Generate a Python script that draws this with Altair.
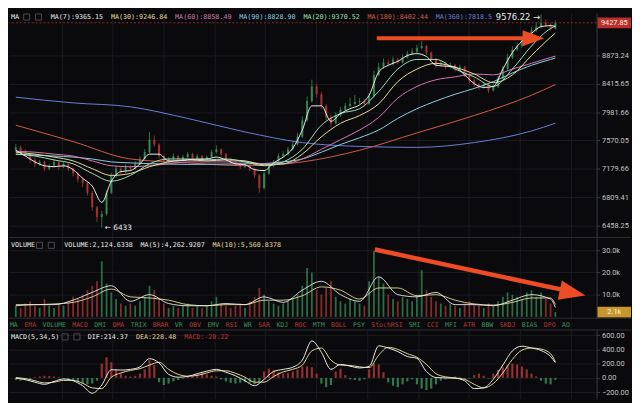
import altair as alt
import pandas as pd
import numpy as np

# ---------------- data ----------------
closes = [7474, 7420, 7380, 7301, 7248, 7274, 7183, 7222, 7274, 7209,
          7248, 7183, 7119, 7042, 6992, 6867, 6684, 6565, 6600, 6867,
          7093, 7183, 7144, 7209, 7183, 7248, 7314, 7407, 7582, 7514,
          7354, 7274, 7314, 7354, 7301, 7340, 7380, 7327, 7354, 7301,
          7340, 7407, 7447, 7380, 7314, 7274, 7248, 7209, 7222, 7183,
          7093, 6929, 7119, 7222, 7274, 7354, 7380, 7447, 7514, 7623,
          7860, 8149, 8372, 8252, 8075, 7903, 7817, 7931, 8017, 8075,
          8105, 8134, 8149, 8105, 8222, 8555, 8679, 8757, 8726, 8805,
          8757, 8837, 8901, 8933, 8997, 9029, 8917, 8805, 8710, 8742,
          8679, 8710, 8648, 8679, 8555, 8463, 8402, 8372, 8402, 8312,
          8372, 8494, 8648, 8837, 8965, 9029, 9127, 9193, 9294, 9361,
          9429, 9395, 9328, 9427.85]
highs = [7520, 7500, 7445, 7400, 7330, 7300, 7290, 7250, 7310, 7290,
         7280, 7265, 7200, 7140, 7070, 7010, 6890, 6700, 6640, 6900,
         7130, 7220, 7210, 7240, 7230, 7280, 7350, 7450, 7690, 7640,
         7530, 7370, 7340, 7390, 7370, 7370, 7410, 7400, 7380, 7370,
         7360, 7440, 7500, 7460, 7395, 7330, 7290, 7260, 7250, 7240,
         7200, 7110, 7150, 7260, 7300, 7390, 7420, 7480, 7560, 7680,
         7920, 8220, 8479, 8420, 8290, 8100, 7940, 7980, 8060, 8120,
         8200, 8240, 8190, 8170, 8270, 8620, 8750, 8820, 8800, 8850,
         8830, 8890, 8950, 8990, 9050, 9110, 9050, 8940, 8830, 8790,
         8770, 8750, 8730, 8720, 8700, 8580, 8490, 8430, 8440, 8420,
         8410, 8540, 8700, 8900, 9020, 9090, 9190, 9260, 9360, 9440,
         9576.22, 9490, 9420, 9470]
lows = [7410, 7390, 7340, 7260, 7200, 7215, 7150, 7160, 7200, 7170,
        7190, 7150, 7080, 7000, 6940, 6830, 6640, 6500, 6433, 6580,
        6850, 7060, 7110, 7120, 7150, 7170, 7230, 7300, 7390, 7480,
        7320, 7240, 7250, 7300, 7280, 7290, 7320, 7300, 7310, 7280,
        7290, 7330, 7390, 7350, 7290, 7250, 7220, 7180, 7190, 7150,
        7060, 6867, 6910, 7100, 7200, 7260, 7340, 7360, 7430, 7500,
        7600, 7840, 8120, 8200, 8030, 7860, 7770, 7800, 7910, 8000,
        8050, 8090, 8100, 8060, 8090, 8200, 8530, 8650, 8690, 8700,
        8720, 8740, 8820, 8880, 8910, 8970, 8880, 8770, 8670, 8690,
        8650, 8660, 8610, 8630, 8520, 8420, 8360, 8320, 8340, 8270,
        8290, 8350, 8470, 8620, 8810, 8940, 9000, 9100, 9170, 9270,
        9330, 9350, 9290, 9310]
opens = [7440] + closes[:-1]

volume_k = [5, 4, 6, 7, 5, 4, 8, 5, 4, 6,
            5, 7, 9, 8, 10, 12, 14, 16, 25, 15,
            11, 8, 6, 5, 6, 5, 7, 9, 14, 12,
            8, 6, 4, 5, 4, 5, 6, 4, 5, 4,
            5, 7, 9, 6, 5, 4, 5, 6, 4, 7,
            9, 13, 10, 7, 6, 5, 6, 7, 8, 10,
            14, 22, 20, 12, 10, 13, 16, 9, 7, 6,
            8, 7, 6, 5, 16, 29.5, 18, 15, 10, 8,
            7, 9, 8, 7, 10, 21, 12, 9, 7, 6,
            5, 6, 5, 4, 6, 7, 6, 5, 4, 6,
            5, 7, 9, 11, 10, 9, 8, 11, 12, 9,
            11, 8, 6, 2.1246338]

macd_hist = [-30, -40, -30, -20, 10, 20, 30, 25, 20, 10,
             -10, -20, -40, -60, -80, -90, -80, -40, 200, 290,
             220, 120, 60, 30, 20, 30, 60, 120, 250, 180,
             -60, -100, -80, -50, -30, -10, 20, 40, 60, 70,
             50, 30, 20, -20, -50, -70, -80, -70, -60, -70,
             -90, -60, 90, 130, 110, 80, 60, 70, 90, 120,
             160, 160, 150, 60, -80, -130, -100, 90, 130, 40,
             -20, -30, -40, -20, 120, 200, 190, 80, -60, -110,
             -130, -90, -50, -20, -90, -150, -170, -150, -90, -40,
             -20, 10, 20, 10, -20, -10, 40, 60, 30, -10,
             60, 110, 150, 180, 200, 190, 160, 120, 60, 20,
             -40, -80, -90, -28.22]

idx_fine = list(range(0, 113, 2)) + [113]
idx_mid = list(range(0, 113, 4)) + [113]
idx_coarse = list(range(0, 113, 12)) + [113]

ma7 = [7434, 7354, 7274, 7222, 7209, 7222, 7170, 7055, 6954, 6745,
       7017, 7144, 7157, 7248, 7380, 7380, 7288, 7288, 7301, 7314,
       7314, 7340, 7301, 7248, 7235, 7170, 7157, 7261, 7340, 7460,
       7720, 8075, 8075, 7846, 7960, 8032, 8090, 8237, 8601, 8710,
       8773, 8869, 8901, 8853, 8710, 8695, 8679, 8555, 8418, 8357,
       8372, 8648, 8917, 9111, 9244, 9361, 9378, 9365.15]
ma20 = [7380, 7354, 7301, 7248, 7119, 7017, 7093, 7248, 7314, 7314,
        7301, 7314, 7274, 7222, 7274, 7447, 7789, 7960, 8032, 8297,
        8648, 8805, 8805, 8648, 8524, 8372, 8648, 9029, 9328, 9370.52]
ma30 = [7407, 7380, 7340, 7288, 7183, 7093, 7119, 7209, 7274, 7301,
        7288, 7301, 7288, 7235, 7248, 7380, 7623, 7817, 7931, 8105,
        8448, 8648, 8742, 8679, 8570, 8433, 8555, 8869, 9177, 9246.84]
ma60 = [7420, 7407, 7380, 7354, 7288, 7222, 7209, 7222, 7248, 7274,
        7274, 7274, 7274, 7248, 7248, 7314, 7447, 7582, 7720, 7903,
        8193, 8372, 8478, 8524, 8570, 8555, 8648, 8742, 8837, 8858.49]
ma90 = [7380, 7367, 7354, 7340, 7314, 7274, 7261, 7250, 7245, 7240,
        7242, 7245, 7248, 7252, 7274, 7314, 7407, 7514, 7609, 7720,
        7888, 8032, 8149, 8252, 8342, 8448, 8586, 8710, 8805, 8828.90]
ma180 = [7789, 7555, 7314, 7261, 7222, 7274, 7434, 7678, 7931, 8237, 8402.44]
ma360 = [8207, 8120, 8061, 7888, 7692, 7541, 7487, 7474, 7541, 7706, 7818.5]

vol_ma5 = [5, 5.5, 5.5, 7.5, 11, 14, 7, 10, 6, 5,
           5, 6, 5.5, 9, 6.5, 12, 16, 10, 7, 18,
           10, 9, 11, 5.5, 5.5, 5, 7.5, 10, 8, 4.2629207]
vol_ma10 = [5.5, 5.5, 5.8, 6.5, 9, 12.5, 9, 8.5, 7.5, 5.5,
            5, 5.5, 5.5, 7.5, 7.5, 9.5, 13.5, 12, 8, 13,
            13, 9.5, 10, 7.5, 5.8, 5.3, 6.5, 8.5, 8.5, 5.5608378]

dif = [-5, -25, -60, -90, -50, -15, -40, -110, -215, -100,
       115, 110, 120, 155, 270, 210, 50, 10, 20, 60,
       95, 120, 80, 30, -40, -110, -20, 90, 120, 150,
       250, 520, 360, 120, 190, 165, 140, 160, 450, 420,
       370, 300, 275, 90, 5, 0, -5, -40, -150, -140,
       -20, 180, 380, 445, 420, 385, 300, 214.37]
dea = [5, -10, -40, -70, -60, -35, -35, -75, -140, -150,
       10, 70, 105, 130, 180, 220, 120, 50, 25, 35,
       70, 100, 100, 65, 10, -60, -60, 20, 85, 120,
       180, 380, 420, 250, 180, 175, 155, 145, 320, 430,
       400, 340, 290, 190, 60, 15, 0, -20, -90, -140,
       -80, 70, 260, 390, 420, 405, 340, 228.48]

price_ticks = [6458.25, 6809.41, 7179.66, 7570.05, 7981.66, 8415.65, 8873.24]
last_price = 9427.85
high_price = 9576.22
low_price = 6433
vol_ticks = [10, 20, 30]
macd_ticks = [-200, 0, 200, 400, 600]

tools = ["MA", "EMA", "VOLUME", "MACD", "DMI", "DMA", "TRIX", "BRAR", "VR", "OBV",
         "EMV", "RSI", "WR", "SAR", "KDJ", "ROC", "MTM", "BOLL", "PSY", "StochRSI",
         "SMI", "CCI", "MFI", "ATR", "BBW", "SKDJ", "BIAS", "DPO", "AO"]

# ---------------- style / layout ----------------
BG = "#0a0a0c"
GRID = "#1b1b21"
AXISC = "#3a3a42"
LABEL = "#c4c4c4"
SEP = "#2e2e35"
GREEN = "#3c9460"
RED = "#b63a3a"
WHITE = "#ededed"
C7, C20, C30, C60, C90, C180, C360 = (WHITE, "#a3e2b6", "#e6df9f", "#d27bb0",
                                      "#8fd0e4", "#d45a4c", "#6a7fdc")
ORANGE = "#ee4c25"
MONO = "DejaVu Sans Mono"
SANS = "Roboto"

W = 597
H_PRICE, H_VOL, H_TOOL, H_MACD = 228, 82, 12, 70
SX = 597 / 605.0
X_DOMAIN = [-0.4, 120.6]
grid_x = list(np.arange(9.6, 118, 10.66))

xscale = alt.Scale(domain=X_DOMAIN, nice=False, zero=False)
xaxis = alt.Axis(values=grid_x, labels=False, ticks=False, domain=False, grid=True,
                 gridColor=GRID, gridWidth=1, title=None)


def px(f):
    return alt.X(f, type="quantitative", scale=xscale, axis=xaxis)


def make_y(domain, ticks, stype="linear", fmt=".2f", label_expr=None):
    sc = alt.Scale(type=stype, domain=domain, nice=False, zero=False)
    kw = dict(orient="right", values=ticks, labelColor=LABEL, labelFont=SANS,
              labelFontSize=7.5, tickColor=AXISC, tickSize=3, domainColor=AXISC,
              grid=True, gridColor=GRID, labelPadding=2, title=None, format=fmt)
    if label_expr:
        kw["labelExpr"] = label_expr
    ax = alt.Axis(**kw)

    def enc(f):
        return alt.Y(f, type="quantitative", scale=sc, axis=ax)
    return enc


py = make_y([6318, 9600], price_ticks, stype="log")
vy = make_y([-0.6, 35.7], vol_ticks, label_expr="format(datum.value, '.1f') + 'k'")
my = make_y([-295, 673], macd_ticks)

ONE = pd.DataFrame({"k": [0]})


def label(txt, x, y, color, size=6.8, font=MONO, align="left"):
    return alt.Chart(ONE).mark_text(text=txt, align=align, baseline="middle", font=font,
                                    fontSize=size, color=color).encode(
        x=alt.value(x), y=alt.value(y))


def icon(x, y):
    return alt.Chart(ONE).mark_point(shape="square", size=38, filled=False,
                                     stroke="#4a4a50", strokeWidth=1, opacity=1).encode(
        x=alt.value(x), y=alt.value(y))


def sep(y):
    return alt.Chart(ONE).mark_rule(color=SEP, strokeWidth=1).encode(
        x=alt.value(0), x2=alt.value(632), y=alt.value(y))


def header(items, start, y, step_char=4.09, gap=8.8):
    layers = []
    hx = start
    for t, c in items:
        layers.append(label(t, hx * SX, y, c))
        hx += len(t) * step_char + gap
    return layers


BOX = "M-1,-0.32L1,-0.32L1,0.32L-1,0.32Z"
HEAD = "M-1,-0.75L1,0L-1,0.75Z"

# ---------------- price panel ----------------
n = len(closes)
cdf = pd.DataFrame({"i": list(range(n)), "open": opens, "high": highs, "low": lows,
                    "close": closes})
cdf["dir"] = np.where(cdf["close"] >= cdf["open"], "up", "down")
dir_color = alt.Color("dir:N", scale=alt.Scale(domain=["up", "down"], range=[GREEN, RED]),
                      legend=None)

wick = alt.Chart(cdf).mark_rule(strokeWidth=1, opacity=0.75).encode(
    x=px("i"), y=py("low"), y2="high", color=dir_color)
body = alt.Chart(cdf).mark_bar(size=2.2, opacity=0.75).encode(
    x=px("i"), y=py("open"), y2="close", color=dir_color)


def ma_layer(idx, vals, color, yenc, width=1.0):
    d = pd.DataFrame({"i": idx, "v": vals})
    return alt.Chart(d).mark_line(color=color, strokeWidth=width, interpolate="monotone",
                                  clip=True).encode(x=px("i"), y=yenc("v"))


ma_layers = [
    ma_layer(idx_coarse, ma360, C360, py),
    ma_layer(idx_coarse, ma180, C180, py),
    ma_layer(idx_mid, ma90, C90, py),
    ma_layer(idx_mid, ma60, C60, py),
    ma_layer(idx_mid, ma30, C30, py),
    ma_layer(idx_mid, ma20, C20, py),
    ma_layer(idx_fine, ma7, C7, py),
]

pl = pd.DataFrame({"p": [last_price]})
price_line = alt.Chart(pl).mark_rule(color="#8a2c2a", strokeDash=[2, 2], strokeWidth=1).encode(
    y=py("p"))
price_box = alt.Chart(pl).mark_point(shape=BOX, size=34 * 34, filled=True, color="#b8302c",
                                     opacity=1).encode(x=alt.value(615), y=py("p"))
price_txt = alt.Chart(pl).mark_text(text="9427.85", font=SANS, fontSize=7.5, color="#ffe9e6",
                                    align="center", baseline="middle").encode(
    x=alt.value(615), y=py("p"))

low_df = pd.DataFrame({"i": [18], "p": [low_price]})
low_txt = alt.Chart(low_df).mark_text(text="\u2190 6433", font="DejaVu Sans", fontSize=7.5,
                                      color=WHITE, align="left", baseline="middle",
                                      dx=3).encode(x=px("i"), y=py("p"))
high_df = pd.DataFrame({"i": [110], "p": [high_price]})
high_txt = alt.Chart(high_df).mark_text(text="9576.22 \u2192", font="DejaVu Sans",
                                        fontSize=8.5, color=WHITE, align="right",
                                        baseline="middle", dx=-1).encode(
    x=px("i"), y=alt.value(4))

a1 = pd.DataFrame({"i": [75.6, 106.5], "p": [9160, 9160]})
arrow1 = alt.Chart(a1).mark_line(color=ORANGE, strokeWidth=4).encode(x=px("i"), y=py("p"))
a1h = pd.DataFrame({"i": [108.4], "p": [9160]})
arrow1h = alt.Chart(a1h).mark_point(shape=HEAD, size=484, filled=True, color=ORANGE,
                                    opacity=1).encode(x=px("i"), y=py("p"))

price_header = [label("MA", 2, 4, WHITE), icon(18, 4), icon(30, 4)] + header(
    [("MA(7):9365.15", C7), ("MA(30):9246.84", C30), ("MA(60):8858.49", C60),
     ("MA(90):8828.90", C90), ("MA(20):9370.52", C20), ("MA(180):8402.44", C180),
     ("MA(360):7818.5", C360)], 43, 4)

price = alt.layer(wick, body, *ma_layers, price_line, arrow1, arrow1h, low_txt,
                  *price_header, high_txt, price_box, price_txt).properties(
    width=W, height=H_PRICE)

# ---------------- volume panel ----------------
vdf = pd.DataFrame({"i": list(range(n)), "v": volume_k, "dir": cdf["dir"]})
vbars = alt.Chart(vdf).mark_bar(size=1.8, opacity=0.7).encode(
    x=px("i"), y=vy("v"), color=dir_color)
vma = [ma_layer(idx_mid, vol_ma10, C30, vy, 0.9), ma_layer(idx_mid, vol_ma5, WHITE, vy, 0.9)]

a2 = pd.DataFrame({"i": [75.2, 114.6], "v": [30.3, 12.1]})
arrow2 = alt.Chart(a2).mark_line(color=ORANGE, strokeWidth=4.5).encode(x=px("i"), y=vy("v"))
a2h = pd.DataFrame({"i": [116.6], "v": [10.8]})
arrow2h = alt.Chart(a2h).mark_point(shape=HEAD, size=700, filled=True, color=ORANGE,
                                    opacity=1, angle=12).encode(x=px("i"), y=vy("v"))

lv = pd.DataFrame({"v": [volume_k[-1]]})
vol_box = alt.Chart(lv).mark_point(shape=BOX, size=34 * 34, filled=True, color="#c9962e",
                                   opacity=1).encode(x=alt.value(615), y=vy("v"))
vol_txt = alt.Chart(lv).mark_text(text="2.1k", font=SANS, fontSize=7.5, color="#fff6da",
                                  align="center", baseline="middle").encode(
    x=alt.value(615), y=vy("v"))

vol_header = [label("VOLUME", 2, 8, WHITE), icon(31, 8), icon(43, 8)] + header(
    [("VOLUME:2,124.6338", WHITE), ("MA(5):4,262.9207", WHITE),
     ("MA(10):5,560.8378", C30)], 57, 8)

volume = alt.layer(vbars, *vma, arrow2, arrow2h, sep(0), *vol_header, vol_box,
                   vol_txt).properties(width=W, height=H_VOL)

# ---------------- toolbar row ----------------
tx, xs = 0.0, []
for t in tools:
    xs.append(tx * SX + 1)
    tx += len(t) * 3.95 + 6.9
tdf = pd.DataFrame({"name": tools, "x": xs})
tool_colors = ["#4d72e6" if t == "VOLUME" else ("#4a4a50" if t == "MACD" else "#9b9ba2")
               for t in tools]
toolbar_text = alt.Chart(tdf).mark_text(font=MONO, fontSize=6.6, align="left",
                                        baseline="middle").encode(
    x=alt.X("x:Q", scale=None, axis=None), y=alt.value(6.5), text="name:N",
    color=alt.Color("name:N", scale=alt.Scale(domain=tools, range=tool_colors), legend=None))
toolbar = alt.layer(sep(0), toolbar_text, sep(12)).properties(width=W, height=H_TOOL)

# ---------------- MACD panel ----------------
hdf = pd.DataFrame({"i": list(range(n)), "h": macd_hist})
hdf["s"] = np.where(hdf["h"] >= 0, "pos", "neg")
hbars = alt.Chart(hdf).mark_bar(size=2.2, opacity=0.8).encode(
    x=px("i"), y=my("h"),
    color=alt.Color("s:N", scale=alt.Scale(domain=["pos", "neg"], range=["#3d9a5a", "#c8303c"]),
                    legend=None))
macd_lines = [ma_layer(idx_fine, dea, "#e6d79a", my), ma_layer(idx_fine, dif, WHITE, my)]
macd_header = [label("MACD(5,34,5)", 2, 7, WHITE), icon(57, 7), icon(69, 7)] + header(
    [("DIF:214.37", WHITE), ("DEA:228.48", "#e6d79a"), ("MACD:-28.22", "#c2353b")], 81, 7)

macd = alt.layer(hbars, *macd_lines, *macd_header).properties(width=W, height=H_MACD)

chart = alt.vconcat(price, volume, toolbar, macd, spacing=0, bounds="flush").properties(
    background=BG, padding={"left": 0, "top": 0, "right": 0, "bottom": 0}
).configure_view(stroke="transparent")

chart.save("out.html", embed_options={"renderer": "svg", "actions": False})
